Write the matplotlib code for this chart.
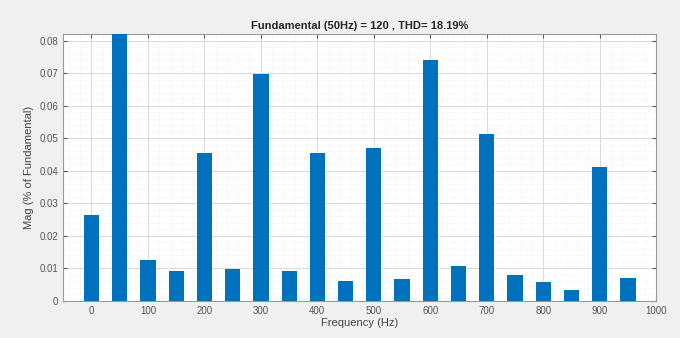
import matplotlib
matplotlib.use("Agg")
import matplotlib.pyplot as plt
from matplotlib.ticker import MultipleLocator
import numpy as np

# Частоты гармоник (Гц) и их амплитуды
freqs = [0, 50, 100, 150, 200, 250, 300, 350, 400, 450,
         500, 550, 600, 650, 700, 750, 800, 850, 900, 950]
mags = [0.0264, 0.085, 0.0125, 0.0092, 0.0456, 0.0099, 0.0696, 0.0093, 0.0456, 0.0060,
        0.0469, 0.0066, 0.0742, 0.0108, 0.0512, 0.0080, 0.0059, 0.0033, 0.0410, 0.0071]
title = "Fundamental (50Hz) = 120 , THD= 18.19%"

plt.rcParams["font.family"] = ["Liberation Sans", "DejaVu Sans"]

fig = plt.figure(figsize=(6.8, 3.38), dpi=100, facecolor="#f0f0f0")
ax = fig.add_axes([0.093, 0.110, 0.872, 0.789])

ax.bar(freqs, mags, width=27, color="#0072bd", zorder=3)

ax.set_xlim(-50, 1000)
ax.set_ylim(0, 0.082)
ax.xaxis.set_major_locator(MultipleLocator(100))
ax.xaxis.set_minor_locator(MultipleLocator(20))
ax.yaxis.set_major_locator(MultipleLocator(0.01))
ax.yaxis.set_minor_locator(MultipleLocator(0.002))
ax.set_yticks(np.arange(0, 0.081, 0.01))
ax.set_yticklabels(["0"] + [f"{v:.2f}" for v in np.arange(0.01, 0.081, 0.01)])

ax.grid(which="major", color="#d9d9d9", linewidth=0.7, zorder=0)
ax.grid(which="minor", color="#e8e8e8", linewidth=0.5, linestyle=":", zorder=0)

ax.tick_params(which="both", direction="in", top=True, right=True,
               labelsize=7, colors="#555555", length=3)
ax.tick_params(which="minor", length=0)
for s in ax.spines.values():
    s.set_color("#9a9a9a")
    s.set_linewidth(0.8)

ax.set_title(title, fontsize=8, fontweight="bold", color="#262626", pad=4)
ax.set_xlabel("Frequency (Hz)", fontsize=8, color="#444444", labelpad=2)
ax.set_ylabel("Mag (% of Fundamental)", fontsize=8, color="#444444", labelpad=4)

fig.savefig("out.png", dpi=100, facecolor=fig.get_facecolor())
